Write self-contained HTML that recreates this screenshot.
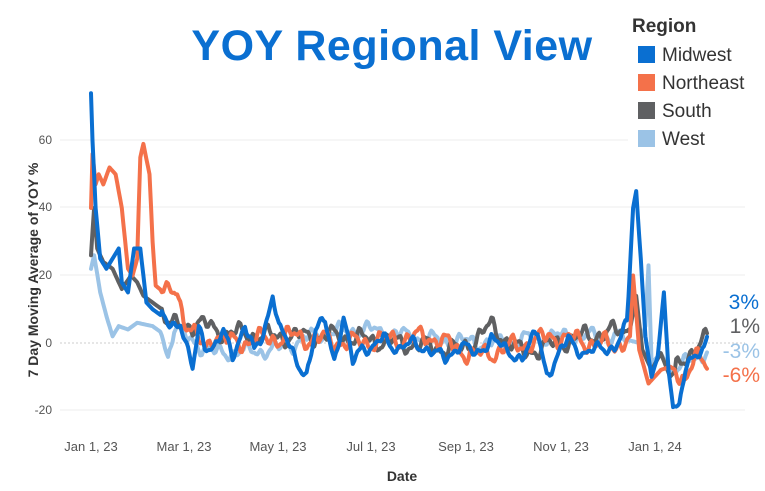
<!DOCTYPE html>
<html><head><meta charset="utf-8"><style>
body{margin:0;background:#fff;}
svg{display:block;font-family:"Liberation Sans",sans-serif;}
</style></head><body>
<svg id="s" width="765" height="491" viewBox="0 0 765 491">
<g stroke="#ececec" stroke-width="1">
<line x1="60" y1="140" x2="745" y2="140"/><line x1="60" y1="207" x2="745" y2="207"/><line x1="60" y1="275" x2="745" y2="275"/><line x1="60" y1="410" x2="745" y2="410"/>
</g>
<line x1="60" y1="343" x2="745" y2="343" stroke="#ccc" stroke-dasharray="2,2"/>
<rect x="628" y="10" width="137" height="142" fill="#fff"/>
<text x="392" y="60" text-anchor="middle" font-size="43" font-weight="bold" fill="#0a6fd1" letter-spacing="0.5">YOY Regional View</text>
<text x="632" y="32" font-size="19" font-weight="bold" fill="#333">Region</text>
<rect x="638" y="46" width="17" height="17" fill="#0a6fd1"/><text x="662" y="61" font-size="19" fill="#333">Midwest</text>
<rect x="638" y="74" width="17" height="17" fill="#f4714a"/><text x="662" y="89" font-size="19" fill="#333">Northeast</text>
<rect x="638" y="102" width="17" height="17" fill="#5f6062"/><text x="662" y="117" font-size="19" fill="#333">South</text>
<rect x="638" y="130" width="17" height="17" fill="#9bc3e6"/><text x="662" y="145" font-size="19" fill="#333">West</text>
<g font-size="12" fill="#555" text-anchor="end">
<text x="52" y="144">60</text><text x="52" y="211">40</text><text x="52" y="279">20</text><text x="52" y="347">0</text><text x="52" y="414">-20</text>
</g>
<g font-size="13" fill="#555" text-anchor="middle">
<text x="91" y="451">Jan 1, 23</text><text x="184" y="451">Mar 1, 23</text><text x="278" y="451">May 1, 23</text><text x="371" y="451">Jul 1, 23</text><text x="466" y="451">Sep 1, 23</text><text x="561" y="451">Nov 1, 23</text><text x="655" y="451">Jan 1, 24</text>
</g>
<text x="402" y="481" text-anchor="middle" font-size="14" font-weight="bold" fill="#333">Date</text>
<text transform="translate(38,270) rotate(-90)" text-anchor="middle" font-size="14" font-weight="bold" fill="#333">7 Day Moving Average of YOY %</text>
<g id="lines" fill="none" stroke-width="4" stroke-linejoin="round" stroke-linecap="round"></g>
<g font-size="21" text-anchor="end">
<text x="759" y="309" fill="#0a6fd1">3%</text>
<text x="760" y="333" fill="#5f6062">1%</text>
<text x="760" y="358" fill="#9bc3e6">-3%</text>
<text x="760" y="382" fill="#f4714a">-6%</text>
</g>
</svg>
<script>
var S={
west:{c:"#9bc3e6",n:1.4,p:[[0,22],[2,26],[6,15],[10,8],[14,2],[18,5],[24,4],[30,6],[40,5],[46,3],[50,-4],[54,5],[60,2],[80,-3],[120,-2],[150,3],[180,4],[220,1],[260,0],[300,2],[340,2],[356,0],[360,5],[362,23],[364,-6],[370,-3],[376,-8],[382,-8],[390,-4],[400,-3]]},
south:{c:"#5f6062",n:1.7,p:[[0,26],[2,40],[4,28],[8,24],[14,22],[20,16],[26,20],[30,18],[34,14],[40,12],[46,10],[52,5],[60,5],[70,6],[80,4],[90,3],[120,2],[160,2],[200,0],[240,-2],[260,5],[280,-3],[320,2],[350,4],[354,14],[358,-2],[364,-8],[370,-3],[376,-10],[382,-7],[388,-3],[396,0],[400,1]]},
ne:{c:"#f4714a",n:1.8,p:[[0,40],[1,56],[3,47],[5,50],[8,47],[12,52],[16,50],[20,40],[24,22],[27,20],[30,25],[32,55],[34,59],[38,50],[40,30],[42,17],[50,14],[56,16],[60,8],[66,3],[74,-2],[80,3],[90,0],[130,2],[170,0],[220,2],[250,-4],[300,2],[340,-1],[350,2],[352,20],[356,-2],[362,-12],[370,-8],[376,-7],[386,-10],[392,-5],[400,-6]]},
mw:{c:"#0a6fd1",n:1.2,p:[[0,74],[1,60],[3,40],[6,25],[10,22],[14,25],[18,28],[20,18],[24,15],[28,28],[32,28],[36,12],[40,10],[46,8],[52,6],[58,6],[62,-2],[66,-8],[70,5],[74,0],[80,-2],[86,3],[92,-3],[100,5],[106,-3],[112,3],[118,15],[122,4],[128,0],[134,-5],[140,-10],[146,3],[152,8],[158,-5],[164,6],[170,-5],[176,0],[182,-3],[190,2],[200,-2],[210,0],[220,-2],[230,-5],[240,0],[250,-4],[260,2],[270,-3],[280,-4],[290,3],[296,-9],[302,-5],[310,1],[320,-3],[330,-2],[340,-1],[348,5],[352,40],[354,45],[357,25],[360,2],[364,-10],[368,-4],[372,15],[375,-8],[378,-19],[382,-18],[386,-8],[390,-6],[394,-3],[398,-1],[400,3]]}
};
var g=document.getElementById("lines"),k=0;
for(var name of ["west","south","ne","mw"]){var s=S[name];k++;var pts=[];var j=0;
for(var d=0;d<=400;d++){while(j<s.p.length-2&&s.p[j+1][0]<d)j++;var a=s.p[j],b=s.p[j+1];var t=(d-a[0])/(b[0]-a[0]);t=Math.max(0,Math.min(1,t));var v=a[1]+(b[1]-a[1])*t;
if(d>45&&!(d>348&&d<380))v+=s.n*(Math.sin(d*0.31+k*1.7)+0.8*Math.sin(d*0.73+k*3.1)+0.4*Math.sin(d*1.37+k));
pts.push((91+d*1.54).toFixed(1)+","+(343-v*3.375).toFixed(1));}
var pl=document.createElementNS("http://www.w3.org/2000/svg","polyline");pl.setAttribute("points",pts.join(" "));pl.setAttribute("stroke",s.c);g.appendChild(pl);}
</script>
</body></html>
